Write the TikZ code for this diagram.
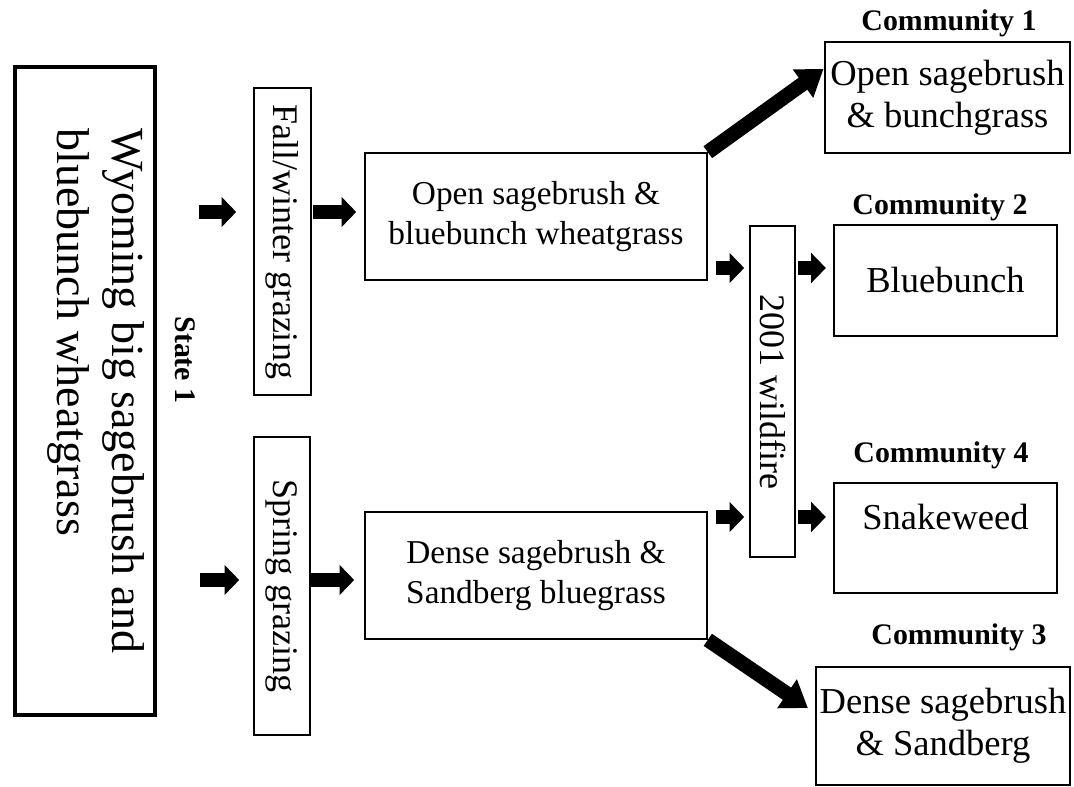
\documentclass[tikz,border=0pt]{standalone}
\usepackage{fontspec}
\setmainfont{Liberation Serif}
\usetikzlibrary{arrows.meta,positioning,calc}

\begin{document}
\begin{tikzpicture}[
    x=0.75pt, y=-0.75pt,
    box/.style={rectangle, draw, line width=1.2pt, inner sep=0pt, align=center},
    statebox/.style={box, line width=3pt, rotate=-90, minimum width=486pt, minimum height=105pt},
    statetext/.style={rotate=-90, inner sep=0pt, align=left, font=\fontsize{34.5}{41}\selectfont},
    graze/.style={box, rotate=-90, font=\fontsize{27}{32}\selectfont},
    veg/.style={box, minimum width=256.5pt, minimum height=95.25pt, font=\fontsize{25}{30}\selectfont},
    comm/.style={box, line width=2.2pt, font=\fontsize{27.4}{31.5}\selectfont},
    lbl/.style={inner sep=0pt, font=\bfseries\fontsize{22.4}{26}\selectfont},
    blk/.style={-{Triangle[width=22pt,length=11pt]}, line width=10.5pt, shorten <=1.5pt, shorten >=5pt},
    diag/.style={-{Triangle[width=25pt,length=19pt]}, line width=11pt}
]
    \useasboundingbox (0,0) rectangle (1074,787);

    % State 1
    \node[statebox] (state) at (85,391) {};
    \node[statetext] (statetxt) at (96,391) {Wyoming big sagebrush and\\bluebunch wheatgrass};
    \node[lbl, rotate=-90] (statelbl) at (185,360) {State 1};

    % Grazing season
    \node[graze, minimum width=230.25pt, minimum height=42.75pt] (fall) at (282.5,241.5) {Fall/winter grazing};
    \node[graze, minimum width=223.5pt, minimum height=42pt] (spring) at (282,586) {Spring grazing};

    % Resulting vegetation
    \node[veg] (open) at (536,216.5) {Open sagebrush \&\\bluebunch wheatgrass};
    \node[veg] (dense) at (536,575.5) {Dense sagebrush \&\\Sandberg bluegrass};

    % Disturbance
    \node[graze, minimum width=248.25pt, minimum height=33.75pt] (fire) at (772.5,391.5) {2001 wildfire};

    % Communities
    \node[comm, minimum width=183.75pt, minimum height=83.25pt] (c1) at (947.5,97.5) {Open sagebrush\\\& bunchgrass};
    \node[comm, minimum width=167.25pt, minimum height=83.25pt] (c2) at (945.5,280.5) {Bluebunch};
    \node[comm, minimum width=167.25pt, minimum height=82.5pt] (c4) at (945.5,538) {Snakeweed\\\phantom{S}};
    \node[comm, minimum width=190.5pt, minimum height=88.5pt] (c3) at (943,726) {Dense sagebrush\\\& Sandberg};

    \node[lbl] (c1lbl) at (949,23) {Community 1};
    \node[lbl] (c2lbl) at (940,207) {Community 2};
    \node[lbl] (c4lbl) at (941,455) {Community 4};
    \node[lbl] (c3lbl) at (959,637) {Community 3};

    % Arrow rows
    \coordinate (rowA) at (0,212);
    \coordinate (rowB) at (0,580);
    \coordinate (rowC) at (0,268);
    \coordinate (rowD) at (0,517);

    % Arrows
    \draw[blk, shorten <=31.5pt, shorten >=12.75pt] (state.north |- rowA) -- (fall.south |- rowA);
    \draw[blk, shorten <=1pt, shorten >=6pt] (fall.north |- rowA) -- (open.west |- rowA);
    \draw[blk, shorten <=32pt, shorten >=10.5pt] (state.north |- rowB) -- (spring.south |- rowB);
    \draw[blk, shorten <=0.5pt, shorten >=7.5pt] (spring.north |- rowB) -- (dense.west |- rowB);

    \draw[blk, shorten <=6pt, shorten >=3.75pt] (open.east |- rowC) -- (fire.south |- rowC);
    \draw[blk] (fire.north |- rowC) -- (c2.west |- rowC);
    \draw[blk, shorten <=6pt, shorten >=3.75pt] (dense.east |- rowD) -- (fire.south |- rowD);
    \draw[blk] (fire.north |- rowD) -- (c4.west |- rowD);

    \draw[diag] (open.north east) -- (c1.167);
    \draw[diag, shorten >=6pt] (dense.south east) -- (c3.174);
\end{tikzpicture}
\end{document}
